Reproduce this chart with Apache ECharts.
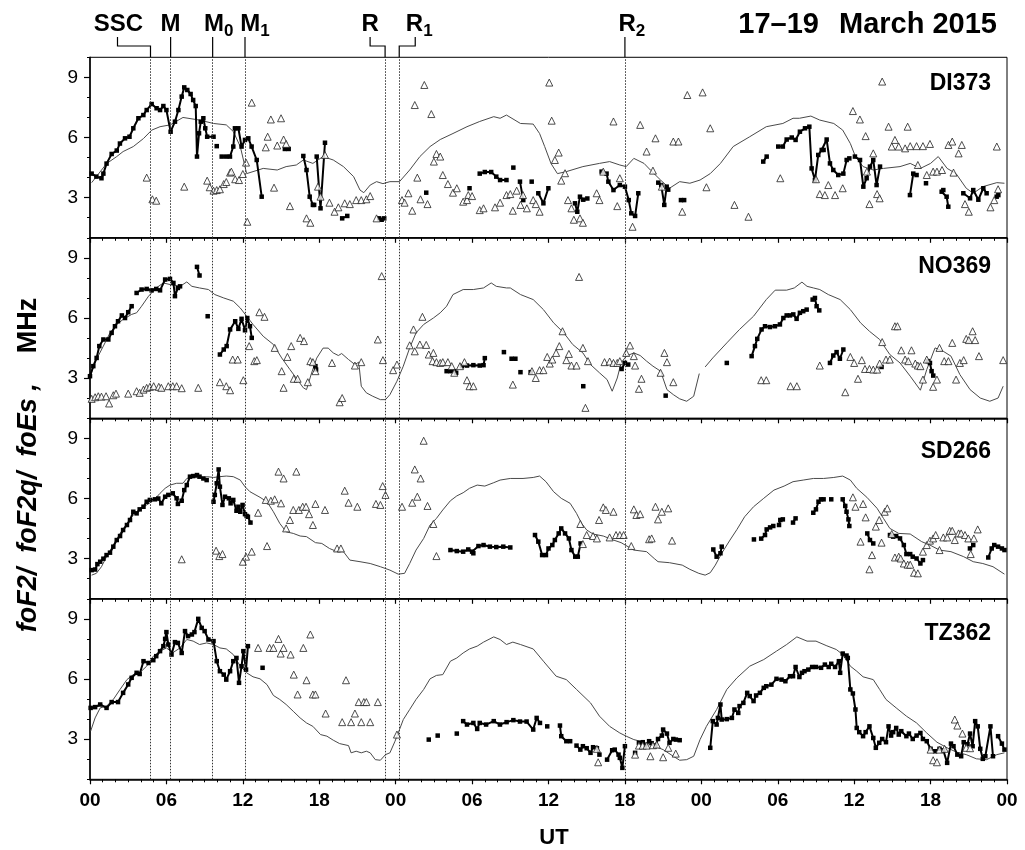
<!DOCTYPE html>
<html><head><meta charset="utf-8">
<script src="https://cdn.jsdelivr.net/npm/echarts@6/dist/echarts.min.js"></script>
<style>html,body{margin:0;padding:0;background:#fff}#c{width:1025px;height:850px}</style>
</head><body><div id="c"></div>
<script>
// ---------------- DATA (hours from 00 UT 17 March 2015, value in MHz) ----------------
const stationNames = ['DI373', 'NO369', 'SD266', 'TZ362'];
const xTickHours = [0, 6, 12, 18, 24, 30, 36, 42, 48, 54, 60, 66, 72];
const yTickLabels = [3, 6, 9];
const eventTimes = [4.75, 6.33, 9.63, 12.17, 23.17, 24.28, 42.0];
const eventMain = ['SSC', 'M', 'M', 'M', 'R', 'R', 'R'];
const eventSub = ['', '', '0', '1', '', '1', '2'];

// DI373
const DI373_foF2 = [
 [[0.13,4.2],[0.5,4.05],[0.9,3.97],[1.05,4.2],[1.3,4.7],[1.7,5.18],[2.1,5.35],[2.35,5.7],[2.75,5.96],[3.1,6.04],[3.4,6.46],[3.8,6.96],[4.19,7.12],[4.45,7.37],[4.84,7.67],[5.23,7.46],[5.5,7.37],[5.76,7.57],[6.0,7.37],[6.33,6.29],[6.67,6.79],[6.94,7.37],[7.2,8.04],[7.4,8.5],[7.64,8.37],[7.9,8.17],[8.1,7.87],[8.3,7.57],[8.4,5.05],[8.56,6.21],[8.7,6.79],[8.9,6.96],[9.05,6.46],[9.2,6.04],[9.7,6.04]],
 [[9.95,5.57]],
 [[10.34,5.05],[10.7,5.05],[10.99,5.05],[11.25,5.55],[11.38,6.46],[11.65,6.46],[11.9,5.55],[12.17,5.88],[12.43,5.96],[12.69,5.55],[13.09,4.88],[13.48,3.05]],
 [[15.3,5.43],[15.6,5.43]],
 [[16.75,5.08],[17.0,4.38],[17.25,3.05],[17.5,2.64],[17.6,2.64]],
 [[17.8,5.05],[18.1,2.47],[18.45,5.74]],
 [[19.8,1.97],[20.2,2.09]],
 [[22.7,1.97],[22.9,1.9],[23.1,1.97]],
 [[26.4,3.25]],
 [[29.8,3.47]],
 [[30.6,4.2],[31.0,4.28],[31.5,4.28],[31.9,4.05],[32.2,3.88],[32.7,3.88]],
 [[33.24,4.5]],
 [[33.76,3.8],[34.02,2.88]],
 [[34.68,3.8]],
 [[35.2,3.22],[35.6,2.72],[35.99,3.47]],
 [[38.08,2.72],[38.26,2.3],[38.47,3.05],[38.73,2.9],[39.05,2.96]],
 [[40.17,4.3],[40.56,4.2],[40.7,3.8],[41.1,3.38],[41.6,3.63],[42.0,3.55],[42.3,2.88],[42.5,2.22],[42.8,2.09],[43.05,3.22]],
 [[44.62,3.75],[44.85,3.63],[45.09,2.64],[45.28,3.55],[45.4,3.4]],
 [[46.4,2.88],[46.65,2.88]],
 [[52.86,4.8],[53.13,5.05]],
 [[54.04,5.55],[54.4,5.55],[54.7,5.9],[55.1,6.0],[55.4,5.88],[55.74,6.29],[56.14,6.46],[56.48,6.54],[56.66,4.46],[56.92,3.88],[57.18,5.13],[57.45,5.38],[57.6,5.38],[57.84,5.9],[58.1,4.71],[58.36,4.38],[58.75,4.13],[59.15,4.2],[59.41,4.88],[59.62,4.96]],
 [[60.06,5.05],[60.46,4.88],[60.72,3.55],[60.98,3.97],[61.24,4.55],[61.5,4.88],[61.76,3.63],[62.03,4.55]],
 [[64.38,3.13],[64.64,4.2],[64.9,4.13]],
 [[65.64,3.72]],
 [[66.87,3.3],[67.0,3.38],[67.26,3.05],[67.39,2.55]],
 [[68.57,3.22],[69.1,2.97],[69.35,3.38],[69.75,2.9],[70.14,3.47],[70.4,3.22]],
 [[71.19,3.05],[71.32,3.13]]
];
const DI373_foF2q = [[0.13,3.75],[1.3,4.7],[2.1,5.05],[2.6,5.3],[3.4,5.55],[4.2,5.95],[4.85,6.37],[5.5,6.54],[6.3,6.63],[7.3,7.0],[8.6,6.87],[9.7,6.7],[10.7,6.63],[11.25,6.3],[11.8,5.55],[12.3,4.2],[12.8,4.3],[13.6,4.46],[14.7,4.38],[15.4,4.55],[16.2,4.63],[16.75,4.88],[17.5,4.71],[18.3,5.05],[19.1,4.88],[19.9,4.55],[20.7,4.05],[21.2,3.38],[21.5,3.25],[22.0,3.63],[22.5,3.8],[23.0,3.7],[23.55,3.8],[24.3,3.8],[25.1,4.38],[25.9,5.05],[26.7,5.55],[27.5,5.9],[28.5,6.2],[29.6,6.54],[30.6,6.8],[31.7,7.04],[32.2,6.96],[32.7,7.12],[33.8,6.7],[34.8,6.67],[35.3,6.2],[35.7,5.55],[36.2,4.7],[36.7,4.2],[37.4,4.3],[38.7,4.55],[40.0,4.71],[40.8,4.8],[41.6,4.63],[42.1,4.55],[42.7,4.96],[43.5,4.71],[44.0,4.38],[44.8,3.88],[45.5,3.47],[46.3,3.8],[47.1,3.72],[47.9,3.88],[48.7,4.2],[49.5,4.71],[50.5,5.55],[51.8,6.04],[53.1,6.54],[54.4,6.7],[55.2,6.96],[55.7,6.96],[56.6,7.07],[57.3,6.87],[58.4,6.7],[59.1,6.37],[59.7,5.7],[60.1,5.05],[60.7,4.55],[61.5,4.38],[62.3,4.46],[63.6,4.55],[64.4,4.71],[65.2,4.46],[66.0,4.71],[66.6,5.05],[67.3,4.46],[68.0,4.2],[68.8,3.47],[69.35,3.22],[70.1,3.55],[71.2,3.75],[71.8,3.72]];
const DI373_foEs = [[4.45,4.0],[4.9,2.92],[5.2,2.85],[7.4,3.55],[9.2,3.85],[9.4,3.52],[9.7,3.35],[9.95,3.38],[10.2,3.42],[10.5,3.68],[10.7,3.78],[11.0,4.25],[11.1,4.3],[11.4,3.92],[11.7,3.88],[12.0,4.18],[12.25,4.75],[12.35,1.8],[12.7,7.74],[13.8,5.51],[13.95,6.04],[14.2,6.9],[14.45,3.5],[14.7,5.6],[15.0,6.96],[15.2,5.9],[15.4,5.68],[15.7,2.58],[17.0,1.97],[17.3,1.75],[17.9,3.55],[18.1,3.05],[18.45,5.13],[18.8,2.75],[19.2,2.3],[19.5,2.52],[20.0,2.72],[20.4,2.68],[20.9,2.88],[21.3,2.88],[21.7,2.92],[22.0,3.08],[22.5,1.97],[24.5,2.88],[24.7,2.75],[25.0,3.22],[25.3,2.35],[25.5,7.62],[25.7,4.0],[25.95,2.92],[26.25,8.62],[26.5,2.68],[26.8,7.17],[27.0,4.8],[27.2,5.18],[27.5,5.05],[27.7,4.13],[28.1,3.68],[28.5,3.25],[28.8,3.47],[29.3,2.8],[29.6,2.88],[29.7,3.13],[30.0,3.08],[30.6,2.38],[30.9,2.47],[31.8,2.52],[32.2,2.75],[32.7,3.13],[33.0,3.18],[33.2,2.35],[33.5,3.35],[33.8,2.64],[34.0,3.13],[34.3,2.47],[34.8,2.88],[35.0,2.68],[35.3,2.3],[36.06,8.74],[36.25,6.84],[36.5,4.88],[36.8,5.25],[37.0,3.85],[37.3,4.22],[37.53,2.88],[37.8,2.47],[37.99,1.9],[38.47,1.97],[38.7,1.75],[39.78,3.22],[40.0,2.88],[40.3,4.3],[41.1,6.8],[41.4,2.58],[41.6,3.97],[42.6,1.55],[43.2,6.63],[43.7,5.3],[44.2,4.35],[44.4,5.96],[44.9,3.55],[45.8,5.8],[46.2,5.8],[46.5,2.3],[46.9,8.12],[48.1,8.25],[48.4,3.52],[48.7,6.46],[50.6,2.64],[51.7,2.05],[54.2,3.97],[57.0,3.92],[57.3,3.18],[57.7,3.13],[57.97,3.63],[58.5,3.13],[59.1,3.47],[59.9,7.32],[60.45,6.9],[60.9,6.07],[61.0,4.3],[61.2,2.68],[61.5,5.21],[61.8,3.18],[62.0,2.97],[62.2,8.79],[62.7,6.54],[62.95,5.55],[63.2,5.88],[63.5,5.55],[64.0,5.46],[64.2,6.54],[64.4,5.57],[64.9,5.57],[65.0,4.63],[65.4,5.57],[65.7,4.13],[65.95,5.68],[66.2,4.3],[66.5,4.3],[66.9,4.38],[67.4,5.63],[67.7,5.8],[67.8,4.25],[68.2,5.21],[68.45,5.63],[68.7,2.68],[69.0,2.3],[70.7,2.52],[71.0,2.88],[71.2,5.55],[71.3,3.42]];

// NO369
const NO369_foF2 = [
 [[0,3.1],[0.26,3.6],[0.52,4.01],[0.73,4.6],[1.05,4.93],[1.44,4.93],[1.7,5.26],[1.96,5.59],[2.2,5.84],[2.5,6.13],[2.75,6.0],[3.0,6.29],[3.27,6.59]],
 [[3.66,7.25],[4.05,7.42],[4.45,7.45],[4.84,7.38],[5.2,7.45],[5.5,7.38],[5.9,7.92],[6.28,7.95],[6.55,7.75],[6.67,7.09],[6.9,7.5],[7.07,7.58]],
 [[8.4,8.55],[8.6,8.12]],
 [[9.24,6.09]],
 [[10.2,4.18],[10.5,4.43],[10.73,4.6],[11.0,5.43],[11.4,5.84],[11.65,5.46],[11.9,5.96],[12.17,5.39],[12.35,6.0],[12.56,5.59],[12.7,5.01]],
 [[17.7,3.6],[17.75,3.43]],
 [[28.0,3.35],[28.3,3.35]],
 [[28.6,3.35],[28.75,3.27]],
 [[29.2,3.6],[29.6,3.63],[30.1,3.65],[30.6,3.63],[30.9,3.65],[31.0,4.0]],
 [[32.5,4.3]],
 [[33.1,3.97],[33.4,3.97]],
 [[33.8,3.3]],
 [[34.6,3.3]],
 [[38.73,2.6]],
 [[41.74,3.46],[42.0,3.76],[42.26,3.68]],
 [[45.2,2.13]],
 [[50.0,3.76]],
 [[51.95,4.1],[52.21,4.6],[52.39,4.96],[52.73,5.43],[53.0,5.59],[53.39,5.55],[53.78,5.59],[54.17,5.68],[54.44,6.0],[54.7,6.13],[54.96,6.13],[55.22,6.18],[55.48,5.96],[55.74,6.26],[56.0,6.34],[56.27,6.42]],
 [[56.74,6.92],[56.92,7.0],[57.05,6.59],[57.26,6.38]],
 [[58.1,3.76],[58.36,4.13],[58.62,4.3],[58.88,3.97],[59.15,4.43]],
 [[62.15,3.56]],
 [[65.77,3.85],[65.95,3.76],[66.08,3.35],[66.21,3.13]]
];
const NO369_foF2q = [[0,3.1],[0.5,3.93],[1.05,4.6],[1.57,5.26],[2.1,5.68],[2.6,5.93],[3.27,6.18],[3.66,6.26],[4.05,6.59],[4.6,7.09],[5.2,7.5],[5.76,7.75],[6.28,7.67],[7.07,7.58],[7.6,7.8],[8.0,7.58],[8.6,7.5],[9.3,7.42],[9.8,7.17],[10.5,7.0],[11.25,6.84],[11.8,6.5],[12.3,6.09],[12.8,5.68],[13.6,5.09],[14.4,4.68],[15.05,4.01],[15.7,3.43],[16.2,3.0],[16.75,2.52],[17.0,2.43],[17.4,3.26],[17.8,4.0],[18.3,4.5],[18.7,4.5],[19.1,4.26],[19.5,4.13],[19.76,4.23],[20.3,3.93],[20.8,3.68],[21.1,3.8],[21.3,2.6],[21.7,2.27],[22.2,2.1],[22.8,1.93],[23.2,1.93],[23.55,2.18],[24.1,2.85],[24.6,3.6],[25.1,4.51],[25.6,5.26],[26.2,5.68],[26.96,6.0],[27.5,6.26],[28.0,6.59],[28.5,7.17],[29.3,7.42],[30.1,7.42],[30.9,7.5],[31.5,7.75],[31.9,7.58],[32.7,7.5],[33.0,7.5],[33.8,7.17],[34.8,6.92],[35.6,6.42],[36.4,5.76],[37.2,5.26],[37.9,4.68],[38.7,4.26],[39.3,3.68],[40.0,3.27],[40.6,2.93],[41.0,2.35],[41.4,3.01],[41.7,3.76],[42.1,4.1],[42.7,4.26],[43.2,4.13],[43.7,3.85],[44.2,3.6],[44.8,3.35],[45.3,2.43],[45.8,2.18],[46.3,1.97],[46.85,1.85],[47.4,2.1],[47.84,3.23],[48.0,null],[48.3,3.56],[48.9,4.01],[50.0,4.76],[51.0,5.43],[52.1,6.09],[53.1,6.92],[53.8,7.39],[54.7,7.39],[55.3,7.5],[55.9,7.79],[56.3,7.58],[56.8,7.5],[57.3,7.42],[57.97,7.17],[58.9,6.92],[59.7,6.42],[60.5,5.76],[61.2,5.34],[62.0,4.93],[62.8,4.18],[63.6,3.76],[64.4,3.1],[65.2,2.4],[65.7,3.43],[66.35,4.51],[67.0,4.34],[67.6,4.1],[68.3,3.18],[69.1,2.43],[69.9,2.01],[70.65,1.85],[71.3,2.01],[71.7,2.6]];
const NO369_foEs = [[0.13,1.97],[0.4,2.05],[0.65,2.1],[0.9,2.08],[1.26,2.1],[1.5,1.74],[1.83,2.15],[2.04,2.23],[3.0,2.23],[3.66,2.35],[3.9,2.27],[4.2,2.43],[4.45,2.52],[4.7,2.57],[5.0,2.6],[5.4,2.57],[5.6,2.52],[6.15,2.6],[6.5,2.6],[6.8,2.6],[7.2,2.5],[8.5,2.52],[10.2,2.8],[10.7,2.6],[11.0,2.4],[11.2,3.93],[11.6,3.93],[12.04,2.9],[12.5,4.6],[12.9,3.85],[13.1,3.9],[13.3,6.29],[13.7,6.06],[14.5,4.51],[15.05,3.35],[15.2,2.52],[15.5,4.06],[15.8,4.6],[16.0,2.97],[16.3,2.97],[16.5,5.01],[16.8,4.85],[17.1,2.8],[17.3,3.85],[17.5,3.8],[17.7,3.35],[19.0,3.76],[19.6,1.8],[19.8,2.01],[20.8,3.63],[21.3,3.8],[22.6,4.93],[22.9,8.09],[23.0,3.9],[23.8,3.4],[24.1,3.68],[25.1,4.64],[25.4,5.43],[25.5,4.34],[25.9,4.68],[26.1,6.06],[26.4,4.66],[26.6,4.18],[26.9,3.85],[26.96,4.26],[27.2,3.8],[27.5,3.76],[27.7,3.8],[28.1,3.8],[28.4,3.6],[28.6,3.27],[29.05,3.6],[29.4,3.8],[29.6,2.9],[29.8,2.6],[30.1,2.6],[33.2,2.68],[34.7,3.35],[35.0,3.01],[35.3,3.4],[35.6,3.4],[35.9,4.06],[36.1,3.73],[36.3,3.93],[36.6,4.26],[36.85,4.6],[37.1,5.34],[37.4,3.9],[37.6,4.21],[37.8,3.63],[38.2,3.63],[38.4,8.05],[38.7,4.51],[38.9,1.52],[39.1,3.85],[40.4,3.8],[40.8,3.83],[41.1,3.76],[41.4,3.76],[41.6,3.85],[42.1,4.26],[42.4,4.63],[42.7,4.1],[42.8,3.63],[43.1,2.47],[43.3,2.97],[44.8,3.27],[45.1,4.26],[45.3,3.8],[45.8,2.8],[52.7,2.9],[53.1,2.9],[55.0,2.6],[55.5,2.6],[57.3,3.63],[59.3,2.3],[59.7,4.06],[60.0,3.76],[60.3,2.97],[60.6,3.9],[60.85,3.46],[61.2,3.46],[61.5,3.43],[61.8,3.43],[62.0,3.73],[62.2,4.8],[62.5,3.93],[62.8,3.93],[63.2,5.59],[63.4,5.59],[63.7,4.39],[64.0,3.93],[64.25,3.85],[64.5,4.39],[64.8,3.73],[65.0,3.63],[65.2,3.6],[65.4,2.93],[65.7,3.93],[66.2,2.57],[66.5,2.93],[66.7,4.51],[67.07,3.85],[67.4,3.85],[67.7,4.76],[68.0,2.93],[68.3,3.76],[68.6,3.9],[68.8,4.96],[69.0,4.9],[69.3,5.34],[69.5,4.9],[69.8,4.1],[71.7,3.9]];

// SD266
const SD266_foF2 = [
 [[0.13,2.43],[0.4,2.46],[0.58,2.73],[0.8,2.85],[1.05,3.0],[1.3,3.18],[1.57,3.3],[1.83,3.6],[2.1,3.93],[2.36,4.13],[2.6,4.43],[2.9,4.68],[3.14,4.93],[3.4,5.34],[3.66,5.26],[3.9,5.46],[4.2,5.59],[4.45,5.84],[4.7,5.93],[5.1,5.96],[5.36,6.0],[5.6,5.76],[5.9,6.09],[6.15,6.18],[6.5,6.26],[6.8,6.01],[6.9,5.73],[7.2,5.89],[7.4,6.42],[7.6,6.67],[7.85,7.09],[8.1,7.12],[8.4,7.17],[8.6,7.09],[8.9,7.0],[9.16,6.92]],
 [[9.7,5.84],[9.8,6.18],[9.95,6.76],[10.1,7.45],[10.2,6.59],[10.4,5.68],[10.6,6.09],[10.9,6.01],[11.04,5.76],[11.25,5.93],[11.5,5.39],[11.65,5.59],[11.8,5.34],[11.98,5.68],[12.17,5.22],[12.3,5.13],[12.4,5.09],[12.6,4.8]],
 [[28.3,3.43],[28.8,3.38],[29.3,3.35],[29.7,3.46],[30.0,3.35],[30.1,3.27],[30.5,3.63],[30.9,3.68],[31.4,3.6],[31.9,3.58],[32.45,3.6],[33.0,3.56]],
 [[34.94,4.18],[35.2,3.85],[35.5,3.18],[35.8,3.18],[36.0,3.51],[36.3,3.68],[36.5,3.93],[36.8,4.26],[37.0,4.51],[37.3,4.26],[37.6,4.01],[37.8,3.43],[38.1,3.1],[38.3,3.1],[38.52,3.76]],
 [[48.94,3.46],[49.2,3.1],[49.5,3.27],[49.6,3.6]],
 [[52.13,3.96]],
 [[52.7,4.0],[53.0,4.18],[53.13,4.46],[53.4,4.56],[53.65,4.63]],
 [[54.1,4.68],[54.2,4.93],[54.4,4.96]],
 [[55.2,4.8],[55.4,5.01]],
 [[56.79,5.29],[57.0,5.46],[57.2,5.84],[57.4,5.96],[57.6,5.96]],
 [[58.2,5.96]],
 [[59.1,5.96],[59.3,5.63],[59.4,5.34],[59.55,4.96],[59.62,4.63]],
 [[61.03,4.26],[61.24,3.93],[61.5,3.76]],
 [[62.81,4.18],[63.06,4.1],[63.3,4.13],[63.6,4.01],[63.9,3.68],[64.1,3.23],[64.4,3.23],[64.6,3.1],[64.9,3.01],[65.2,2.76],[65.4,2.93]],
 [[69.09,3.51],[69.35,3.68]],
 [[70.53,3.06],[70.8,3.51],[71.0,3.68],[71.3,3.6],[71.6,3.51],[71.8,3.43]]
];
const SD266_foF2q = [[0.13,2.18],[0.5,2.27],[0.9,2.6],[1.3,3.1],[1.83,3.68],[2.36,4.26],[2.9,4.76],[3.4,5.18],[3.9,5.43],[4.45,5.68],[4.97,5.89],[5.5,6.26],[5.9,6.51],[6.28,6.67],[6.8,6.76],[7.3,6.76],[7.6,7.0],[8.1,7.09],[8.6,7.0],[9.2,7.09],[9.7,7.05],[10.2,7.09],[10.7,7.12],[11.25,7.09],[11.8,6.92],[12.17,6.59],[12.56,6.34],[13.35,6.06],[13.9,5.84],[14.4,5.34],[14.9,4.76],[15.4,4.34],[15.96,4.26],[16.5,4.13],[17.0,4.1],[17.7,3.8],[18.2,3.76],[18.8,3.51],[19.4,3.35],[19.9,3.35],[20.4,2.93],[21.2,2.85],[22.0,2.76],[22.8,2.6],[23.55,2.43],[24.2,2.23],[24.7,2.27],[25.1,2.76],[25.6,3.43],[26.2,4.01],[26.7,4.68],[27.2,5.01],[27.7,5.43],[28.3,5.89],[28.8,6.13],[29.3,6.29],[29.8,6.51],[30.4,6.67],[31.0,6.62],[31.7,6.79],[32.2,6.92],[33.0,7.0],[34.0,7.0],[34.8,7.05],[35.3,7.12],[35.8,6.84],[36.4,6.34],[37.0,6.01],[37.7,5.76],[38.2,5.26],[38.6,4.76],[39.0,4.43],[39.5,4.23],[40.3,4.13],[41.1,3.93],[41.7,3.8],[42.7,3.43],[43.7,3.35],[44.3,3.01],[44.6,2.85],[45.5,2.8],[46.5,2.68],[47.1,2.47],[47.8,2.27],[48.3,2.18],[48.7,2.3],[49.1,2.68],[49.6,3.27],[50.25,3.93],[50.8,4.46],[51.4,5.09],[52.1,5.59],[52.9,6.01],[53.7,6.42],[54.5,6.62],[55.2,6.84],[56.0,6.92],[56.8,7.0],[57.6,7.0],[58.4,7.05],[59.1,7.12],[59.7,6.92],[60.2,6.51],[61.0,6.06],[61.8,5.51],[62.3,5.01],[62.8,4.51],[63.5,4.26],[64.4,4.23],[65.3,3.85],[65.95,3.68],[66.7,3.43],[67.6,3.35],[68.6,3.1],[69.35,2.85],[70.1,2.76],[70.9,2.6],[71.8,2.23]];
const SD266_foEs = [[7.2,2.97],[9.9,3.4],[10.15,3.13],[10.4,3.23],[12.0,2.85],[12.25,3.1],[12.7,3.35],[13.2,5.29],[13.8,5.93],[13.9,3.63],[14.2,5.89],[14.5,5.96],[14.8,7.34],[15.0,5.76],[15.2,7.0],[15.4,4.51],[15.7,4.93],[15.96,5.43],[16.2,7.34],[16.4,5.43],[16.7,5.59],[16.96,5.59],[17.2,5.22],[17.5,4.68],[17.7,5.73],[18.45,5.43],[19.4,3.51],[19.7,3.51],[20.0,6.39],[20.3,5.79],[20.99,5.59],[22.45,5.73],[22.8,5.68],[22.98,6.62],[23.2,6.18],[24.5,5.59],[25.3,5.79],[25.5,7.45],[25.7,6.09],[25.96,7.0],[26.2,8.88],[26.5,5.63],[26.96,4.73],[27.2,3.13],[38.5,4.73],[38.7,3.73],[39.0,4.18],[39.5,4.13],[39.8,4.01],[39.97,4.93],[40.3,5.56],[40.5,5.43],[40.8,4.06],[41.1,5.34],[41.3,4.18],[41.6,4.18],[41.9,4.18],[42.5,3.63],[42.7,5.46],[42.9,5.18],[43.2,5.22],[43.9,3.97],[44.1,4.01],[44.4,5.59],[44.6,4.96],[44.9,5.34],[45.4,5.51],[45.7,3.9],[59.9,6.06],[60.1,5.59],[60.5,3.85],[60.7,5.73],[60.9,5.06],[61.2,2.47],[61.4,3.18],[61.7,4.6],[61.97,4.93],[62.15,3.8],[62.4,5.34],[62.6,5.51],[62.95,4.23],[63.2,3.06],[63.5,3.1],[63.65,3.01],[63.9,2.76],[64.2,2.7],[64.4,2.7],[64.7,2.3],[65.0,2.27],[65.4,3.35],[65.7,3.68],[65.95,3.9],[66.2,4.01],[66.4,4.18],[66.7,3.43],[67.0,4.06],[67.3,4.06],[67.5,4.39],[67.7,4.39],[67.9,3.93],[68.2,4.26],[68.4,4.26],[68.7,4.18],[68.96,4.01],[69.15,3.23],[69.4,4.01],[69.7,4.46]];

// TZ362
const TZ362_foF2 = [
 [[0.05,4.56],[0.4,4.6],[0.8,4.73],[1.3,4.56],[1.7,4.85],[2.2,4.85],[2.6,5.31],[3.0,5.73],[3.27,6.06],[3.66,6.31],[3.9,6.25],[4.2,6.89],[4.6,6.8],[4.97,6.94],[5.2,7.14],[5.5,7.39],[5.76,7.64],[5.9,8.0],[6.0,8.34],[6.15,7.72],[6.4,7.22],[6.67,7.84],[6.9,7.8],[7.2,7.3],[7.46,8.39],[7.7,8.14],[8.0,8.22],[8.2,8.34],[8.5,9.0],[8.77,8.55],[9.0,8.39],[9.3,7.97],[9.7,7.89],[9.95,6.89],[10.2,6.39],[10.5,6.22],[10.7,5.97],[11.0,6.39],[11.25,6.89],[11.5,7.05],[11.7,5.81],[11.9,6.64],[12.04,7.39],[12.25,6.47],[12.4,7.64]],
 [[13.55,6.56]],
 [[26.6,2.98]],
 [[27.3,3.18]],
 [[28.8,3.28]],
 [[29.3,3.9],[29.6,3.73],[30.1,3.81],[30.4,3.51],[30.6,3.81],[31.1,3.73],[31.7,3.9],[32.19,3.73],[32.71,3.85],[33.24,3.95],[33.76,3.88],[34.28,3.88],[34.8,3.48],[35.07,4.06],[35.33,3.81]],
 [[35.9,3.64]],
 [[36.9,3.68],[37.0,3.15],[37.4,2.9],[37.7,2.9]],
 [[38.2,2.68],[38.5,2.48],[38.7,2.65],[39.0,2.55],[39.3,2.32],[39.5,2.6],[39.8,2.55],[40.0,2.23]],
 [[40.6,1.98],[41.0,2.45],[41.2,2.48],[41.5,2.23],[41.6,2.07],[41.8,1.57],[42.0,2.65]],
 [[42.8,2.32]],
 [[43.1,2.82],[43.4,2.85],[43.6,2.68],[43.9,2.9],[44.1,2.8],[44.4,2.68],[44.6,3.01],[44.9,3.18],[45.0,3.48],[45.3,3.28],[45.5,2.82],[45.8,3.01],[46.0,2.98],[46.3,2.95]],
 [[48.7,2.57],[48.9,3.9],[49.2,3.73],[49.3,4.06],[49.5,4.73],[49.6,3.98],[50.0,4.0],[50.4,4.06],[50.6,4.48],[50.9,4.31],[51.0,4.65],[51.3,4.81],[51.6,5.31],[51.8,5.15],[52.1,4.9],[52.3,5.18],[52.6,5.31],[52.9,5.56],[53.1,5.64],[53.5,5.72],[53.9,6.01],[54.3,5.97],[54.6,5.89],[54.96,6.14],[55.2,6.14],[55.4,6.6],[55.7,6.1],[55.9,6.31],[56.1,6.39],[56.4,6.47],[56.7,6.6],[57.0,6.6],[57.4,6.56],[57.7,6.72],[58.0,6.6],[58.2,6.76],[58.5,6.6],[58.8,6.89],[58.9,6.31],[59.1,7.27],[59.4,7.17],[59.5,7.05],[59.7,5.48],[59.9,5.28],[60.1,4.48],[60.2,3.56],[60.4,3.35],[60.7,3.15],[60.9,3.35],[61.2,3.64],[61.5,3.06],[61.7,2.57],[61.97,2.82],[62.2,3.01],[62.5,2.85],[62.7,3.64],[62.9,3.18],[63.06,3.35],[63.3,3.56],[63.5,3.23],[63.7,3.4],[64.1,3.15],[64.3,3.28],[64.6,3.01],[64.9,3.18],[65.2,3.31],[65.4,3.01],[65.7,2.9],[66.0,2.52],[66.35,2.4],[66.7,2.52],[67.0,2.45],[67.3,1.82],[67.6,2.78],[67.8,2.65],[68.1,2.23],[68.4,2.15],[68.6,2.85],[68.9,2.75],[69.1,3.28],[69.3,2.65],[69.5,3.9],[69.7,3.64],[69.9,2.52],[70.1,2.02],[70.3,2.15],[70.7,3.64],[70.9,2.15]],
 [[71.3,3.15],[71.6,2.78],[71.8,2.48]]
];
const TZ362_foF2q = [[0.05,3.4],[0.4,4.06],[0.8,4.56],[1.3,4.65],[1.83,4.98],[2.36,5.48],[2.9,5.97],[3.4,6.22],[3.9,6.31],[4.45,6.64],[4.97,7.14],[5.5,7.39],[6.0,7.55],[6.5,7.31],[7.07,7.55],[7.6,7.97],[8.1,7.89],[8.6,7.72],[9.16,7.8],[9.7,7.72],[10.2,7.55],[10.7,7.5],[11.25,7.22],[11.8,6.64],[12.3,6.31],[12.8,6.11],[13.35,6.01],[13.9,5.72],[14.4,5.18],[14.9,4.98],[15.4,4.73],[15.96,4.39],[16.5,4.06],[17.0,3.81],[17.5,3.64],[18.1,3.23],[18.6,3.15],[19.1,2.95],[19.6,2.78],[20.3,2.68],[20.5,2.32],[20.9,2.4],[21.3,2.32],[21.7,2.4],[22.0,2.32],[22.4,1.98],[22.8,1.95],[23.2,2.23],[23.55,2.32],[23.95,2.9],[24.3,3.48],[24.6,3.98],[25.1,4.48],[25.6,4.98],[26.2,5.48],[26.7,6.01],[27.2,6.18],[27.7,6.22],[28.3,6.89],[28.8,7.05],[29.3,7.3],[29.8,7.5],[30.4,7.64],[30.9,7.84],[31.7,8.1],[32.2,7.97],[32.7,7.72],[33.2,7.84],[33.8,7.72],[34.8,7.5],[35.6,6.89],[36.6,6.14],[37.4,5.97],[38.2,5.48],[39.3,4.81],[40.0,4.15],[40.8,3.64],[41.6,3.31],[42.1,3.15],[42.7,2.98],[43.5,2.85],[44.2,2.68],[45.0,2.48],[45.8,2.15],[46.3,1.95],[46.85,1.98],[47.4,2.15],[47.9,2.98],[48.4,3.64],[49.2,4.48],[50.0,5.48],[50.8,6.06],[51.8,6.64],[52.9,6.97],[53.9,7.39],[54.7,7.72],[55.5,8.1],[56.3,7.89],[57.0,7.89],[57.8,7.67],[58.6,7.47],[59.1,7.22],[59.7,6.64],[60.2,6.39],[60.7,6.11],[61.5,5.97],[62.0,5.48],[62.5,4.98],[63.3,4.56],[64.1,4.15],[64.9,3.81],[65.7,3.31],[66.5,2.85],[67.3,2.57],[68.05,2.35],[68.8,2.23],[69.6,2.02],[70.4,1.98],[71.2,2.23],[71.8,2.32]];
const TZ362_foEs = [[13.2,7.55],[14.1,7.55],[14.4,7.55],[14.8,8.0],[14.97,7.27],[15.2,7.55],[15.75,7.22],[16.0,6.22],[16.3,5.23],[16.75,7.55],[17.0,5.94],[17.3,8.22],[17.5,5.23],[17.7,5.23],[18.5,4.28],[19.8,3.85],[20.1,5.94],[20.5,3.85],[20.8,4.28],[21.1,4.85],[21.3,3.85],[21.5,4.85],[21.7,4.85],[22.0,3.85],[22.6,4.85],[24.1,3.23],[39.8,2.52],[39.9,1.85],[42.8,2.23],[43.1,2.68],[43.4,2.68],[43.7,2.68],[44.0,2.15],[44.2,2.7],[44.5,2.73],[45.0,2.1],[45.4,2.57],[45.99,2.28],[66.0,2.48],[66.2,1.95],[66.5,1.85],[66.7,2.48],[67.1,2.52],[67.9,3.98],[68.1,3.68],[68.5,3.28],[68.8,2.57],[69.1,2.55]];

// ---------------- LAYOUT / STYLE ----------------
const FONT = '"Liberation Sans", Arial, Helvetica, sans-serif';
const GRID_LEFT = 90, GRID_RIGHT = 18, GRID_TOP = 57.3, GRID_H = 180.5;
const labelOffsetY = [26, 29, 33, 35];

const panels = [
  {name: stationNames[0], foF2: DI373_foF2, q: DI373_foF2q, es: DI373_foEs},
  {name: stationNames[1], foF2: NO369_foF2, q: NO369_foF2q, es: NO369_foEs},
  {name: stationNames[2], foF2: SD266_foF2, q: SD266_foF2q, es: SD266_foEs},
  {name: stationNames[3], foF2: TZ362_foF2, q: TZ362_foF2q, es: TZ362_foEs}
];

function joinSegments(segs) {
  const out = [];
  segs.forEach((s, i) => {
    if (i > 0) {
      const prev = segs[i - 1][segs[i - 1].length - 1][0];
      out.push([(prev + s[0][0]) / 2, null]);
    }
    s.forEach(p => out.push(p));
  });
  return out;
}

const grids = [], xAxes = [], yAxes = [], series = [];
panels.forEach((p, i) => {
  grids.push({left: GRID_LEFT, right: GRID_RIGHT, top: GRID_TOP + i * GRID_H, height: GRID_H,
    show: true, borderColor: '#000', borderWidth: 1, backgroundColor: 'transparent'});
  xAxes.push({type: 'value', gridIndex: i, min: 0, max: 72, interval: 6, position: 'bottom',
    axisLine: {show: true, onZero: false, lineStyle: {color: '#000', width: 1.5}},
    axisTick: {show: true, length: 5, lineStyle: {color: '#000', width: 1.2}},
    minorTick: {show: true, splitNumber: 6, length: 3, lineStyle: {color: '#000', width: 1}},
    splitLine: {show: false}, minorSplitLine: {show: false},
    axisLabel: {show: i === 3, formatter: v => String(v % 24).padStart(2, '0'),
      fontFamily: FONT, fontWeight: 'bold', fontSize: 19, color: '#000', margin: 12}
  });
  yAxes.push({type: 'value', gridIndex: i, min: 1, max: 10, interval: 1, position: 'left',
    axisLine: {show: true, onZero: false, lineStyle: {color: '#000', width: 1.5}},
    axisTick: {show: true, length: 3, lineStyle: {color: '#000', width: 1}},
    axisLabel: {show: false}, splitLine: {show: false}
  });
  yAxes.push({type: 'value', gridIndex: i, min: 1, max: 10, interval: 1, position: 'left', offset: 0,
    axisLine: {show: false, onZero: false},
    axisTick: {show: true, length: 6, customValues: yTickLabels, lineStyle: {color: '#000', width: 1.2}},
    axisLabel: {show: true, customValues: yTickLabels, fontFamily: FONT, fontSize: 19, color: '#000', margin: 12},
    splitLine: {show: false}
  });
  series.push({type: 'line', name: 'foF2q', xAxisIndex: i, yAxisIndex: 2 * i, data: p.q,
    showSymbol: false, connectNulls: false, lineStyle: {color: '#4a4a4a', width: 1}, z: 2, silent: true,
    markLine: {silent: true, symbol: ['none', 'none'], label: {show: false},
      lineStyle: {type: [1.5, 1.5], color: '#333', width: 1},
      data: eventTimes.map(t => ({xAxis: t}))}
  });
  series.push({type: 'line', name: 'foF2', xAxisIndex: i, yAxisIndex: 2 * i, data: joinSegments(p.foF2),
    showSymbol: true, showAllSymbol: true, symbol: 'rect', symbolSize: 4.5, connectNulls: false,
    itemStyle: {color: '#000'}, lineStyle: {color: '#000', width: 2}, z: 3, silent: true
  });
  series.push({type: 'scatter', name: 'foEs', xAxisIndex: i, yAxisIndex: 2 * i, data: p.es,
    symbol: 'triangle', symbolSize: 7,
    itemStyle: {color: '#fff', borderColor: '#222', borderWidth: 1}, z: 4, silent: true
  });
});

const chart = echarts.init(document.getElementById('c'), null, {renderer: 'canvas'});
chart.setOption({animation: false, backgroundColor: '#fff', grid: grids, xAxis: xAxes, yAxis: yAxes, series: series});

// ---------------- ANNOTATIONS ----------------
const eventLayout = [{dx: -32, knee: -33}, {dx: 0}, {dx: 6}, {dx: 10}, {dx: -15, knee: -15}, {dx: 20, knee: 16}, {dx: 7}];
const ctx = document.createElement('canvas').getContext('2d');
function textW(t, size) { ctx.font = 'bold ' + size + 'px "Liberation Sans"'; return ctx.measureText(t).width; }
const g = [];
eventTimes.forEach((t, i) => {
  const x = chart.convertToPixel({xAxisIndex: 0}, t);
  const L = eventLayout[i];
  const cx = x + L.dx;
  const wm = textW(eventMain[i], 24), ws = eventSub[i] ? textW(eventSub[i], 17) : 0;
  const x0 = cx - (wm + ws) / 2;
  g.push({type: 'text', x: x0, y: 24, silent: true,
    style: {text: eventMain[i], fontFamily: FONT, fontWeight: 'bold', fontSize: 24, fill: '#000', align: 'left', verticalAlign: 'middle'}});
  if (eventSub[i]) g.push({type: 'text', x: x0 + wm, y: 31, silent: true,
    style: {text: eventSub[i], fontFamily: FONT, fontWeight: 'bold', fontSize: 17, fill: '#000', align: 'left', verticalAlign: 'middle'}});
  const pts = L.knee !== undefined ? [[x + L.knee, 37], [x + L.knee, 46], [x, 46], [x, GRID_TOP]] : [[x, 37], [x, GRID_TOP]];
  g.push({type: 'polyline', silent: true, shape: {points: pts}, style: {stroke: '#000', lineWidth: 1.2, fill: null}});
});
panels.forEach((p, i) => {
  g.push({type: 'text', x: 1025 - GRID_RIGHT - 16, y: GRID_TOP + i * GRID_H + labelOffsetY[i], silent: true,
    style: {text: p.name, fontFamily: FONT, fontWeight: 'bold', fontSize: 23, fill: '#000', align: 'right', verticalAlign: 'middle'}});
});
g.push({type: 'text', x: 997, y: 25, silent: true,
  style: {text: 'March 2015', fontFamily: FONT, fontWeight: 'bold', fontSize: 29, fill: '#000', align: 'right', verticalAlign: 'middle'}});
g.push({type: 'text', x: 819, y: 25, silent: true,
  style: {text: '17\u201319', fontFamily: FONT, fontWeight: 'bold', fontSize: 29, fill: '#000', align: 'right', verticalAlign: 'middle'}});
g.push({type: 'text', x: 554, y: 838, silent: true,
  style: {text: 'UT', fontFamily: FONT, fontWeight: 'bold', fontSize: 22, fill: '#000', align: 'center', verticalAlign: 'middle'}});
g.push({type: 'text', x: 29, y: 465, rotation: Math.PI / 2, silent: true,
  style: {text: '{i|foF2/  foF2q/  foEs ,}{n|    MHz}', align: 'center', verticalAlign: 'middle',
    rich: {i: {fontFamily: FONT, fontWeight: 'bold', fontStyle: 'italic', fontSize: 27, fill: '#000', color: '#000'},
           n: {fontFamily: FONT, fontWeight: 'bold', fontSize: 27, fill: '#000', color: '#000'}}}});
chart.setOption({graphic: g});
</script>
</body></html>
